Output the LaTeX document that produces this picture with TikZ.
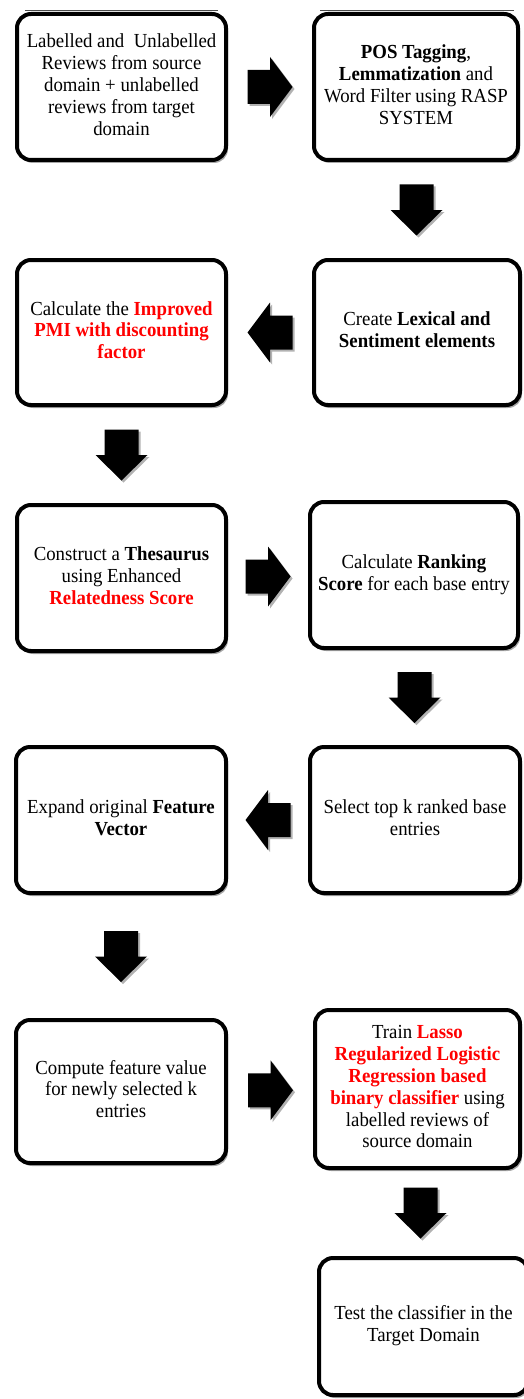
\documentclass[tikz,border=0pt]{standalone}
\usepackage{fontspec}
\usepackage{graphicx}
\setmainfont{Liberation Serif}
\usetikzlibrary{calc,shadows}
\newcommand{\rd}[1]{\textcolor{red}{\textbf{#1}}}
\newcommand{\tx}[1]{\scalebox{1}[1.06]{\begin{tabular}{@{}c@{}}#1\end{tabular}}}
\begin{document}
\begin{tikzpicture}[x=1pt,y=-1pt,
  stage/.style={draw=black, line width=4pt, rounded corners=14pt, fill=white,
    align=center, inner sep=2pt, font=\fontsize{18.8}{20.6}\selectfont,
    drop shadow={shadow xshift=2pt, shadow yshift=-3pt, opacity=0.35, fill=black}},
  arrowfill/.style={fill=black, drop shadow={shadow xshift=2pt, shadow yshift=-2pt, opacity=0.3, fill=black}},
  rarrow/.pic={\path[arrowfill] (-22.5,-17) -- (0,-17) -- (0,-30) -- (22.5,0) -- (0,30) -- (0,17) -- (-22.5,17) -- cycle;},
  larrow/.pic={\path[arrowfill] (22.5,-17) -- (0,-17) -- (0,-30) -- (-22.5,0) -- (0,30) -- (0,17) -- (22.5,17) -- cycle;},
  darrow/.pic={\path[arrowfill] (-17,-25.5) -- (17,-25.5) -- (17,0) -- (26,0) -- (0,25.5) -- (-26,0) -- (-17,0) -- cycle;},
  topline/.style={draw=black!70, line width=0.8pt}
]
\useasboundingbox (0,0) rectangle (523,1399);

\draw[topline] (25,10) -- (218,10);
\draw[topline] (320,10) -- (514,10);

\node[stage, minimum width=209pt, minimum height=146pt] (b1) at (121.5,87)
  {\tx{Labelled and\ \ Unlabelled\\Reviews from source\\domain + unlabelled\\reviews from target\\domain}};
\node[stage, minimum width=204pt, minimum height=146pt] (b2) at (416,87)
  {\tx{\textbf{POS Tagging},\\\textbf{Lemmatization} and\\Word Filter using RASP\\SYSTEM}};
\node[stage, minimum width=209pt, minimum height=145pt] (b3) at (121.5,332.5)
  {\tx{Calculate the \rd{Improved}\\\rd{PMI with discounting}\\\rd{factor}}};
\node[stage, minimum width=206pt, minimum height=145pt] (b4) at (417,332.5)
  {\tx{Create \textbf{Lexical and}\\\textbf{Sentiment elements}}};
\node[stage, minimum width=209pt, minimum height=146pt] (b5) at (121.5,578)
  {\tx{Construct a \textbf{Thesaurus}\\using Enhanced\\\rd{Relatedness Score}}};
\node[stage, minimum width=208pt, minimum height=146pt] (b6) at (414,575)
  {\tx{Calculate \textbf{Ranking}\\\textbf{Score} for each base entry}};
\node[stage, minimum width=210pt, minimum height=146pt] (b7) at (121,820)
  {\tx{Expand original \textbf{Feature}\\\textbf{Vector}}};
\node[stage, minimum width=210pt, minimum height=146pt] (b8) at (415,820)
  {\tx{Select top k ranked base\\entries}};
\node[stage, minimum width=210pt, minimum height=143pt] (b9) at (121,1091.5)
  {\tx{Compute feature value\\for newly selected k\\entries}};
\node[stage, minimum width=205pt, minimum height=158pt] (b10) at (417.5,1089)
  {\tx{Train \rd{Lasso}\\\rd{Regularized Logistic}\\\rd{Regression based}\\\rd{binary classifier} using\\labelled reviews of\\source domain}};
\node[stage, minimum width=209pt, minimum height=137pt] (b11) at (423.5,1326.5)
  {\tx{Test the classifier in the\\Target Domain}};

\pic at ($(b1.east)!0.5!(b2.west)$) {rarrow};
\pic at ($(b2.south)!0.5!(b4.north)$) {darrow};
\pic at ($(b4.west)!0.5!(b3.east)$) {larrow};
\pic at ($(b3.south)!0.5!(b5.north)$) {darrow};
\pic at ($(b5.east)!0.5!(b6.west)$) {rarrow};
\pic at ($(b6.south)!0.5!(b8.north)$) {darrow};
\pic at ($(b8.west)!0.5!(b7.east)$) {larrow};
\pic at ($(b7.south)!0.5!(b9.north)$) {darrow};
\pic at ($(b9.east)!0.5!(b10.west)$) {rarrow};
\pic at ($(b10.south)!0.5!(b11.north)$) {darrow};
\end{tikzpicture}
\end{document}
